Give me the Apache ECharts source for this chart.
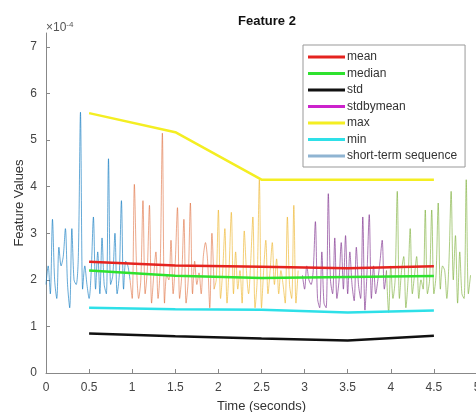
<!DOCTYPE html>
<html>
<head>
<meta charset="utf-8">
<script src="https://cdn.jsdelivr.net/npm/echarts@6/dist/echarts.min.js"></script>
<style>
  html, body { margin: 0; padding: 0; background: #fff; }
  #chart { width: 476px; height: 412px; }
</style>
</head>
<body>
<div id="chart"></div>
<script>
// all values in units of 1e-4
var statTimes = [0.5, 1.5, 2.5, 3.5, 4.5];
var meanValues = [2.39, 2.31, 2.28, 2.25, 2.29];
var medianValues = [2.20, 2.09, 2.04, 2.06, 2.08];
var stdValues = [0.85, 0.79, 0.74, 0.70, 0.80];
var stdbymeanValues = [3560, 3420, 3250, 3110, 3500];
var maxValues = [5.58, 5.17, 4.15, 4.15, 4.15];
var minValues = [1.40, 1.37, 1.36, 1.30, 1.34];

var xTicks = [0, 0.5, 1, 1.5, 2, 2.5, 3, 3.5, 4, 4.5, 5];
var yTicks = [0, 1, 2, 3, 4, 5, 6, 7];

// short-term sequences, one per second, sampled every 0.025 s
var seqStep = 0.025;
var seqStarts = [0, 0.975, 1.95, 2.975, 3.95];
var seq1 = [1.9, 2.3, 1.7, 3.3, 2.0, 1.6, 2.7, 2.3, 2.5, 3.1, 1.9, 1.4, 3.1, 2.0, 1.9, 2.5, 5.6, 1.8, 2.3, 1.9,
            1.6, 2.2, 3.35, 1.8, 2.6, 1.7, 2.9, 1.9, 1.7, 4.6, 1.9, 2.1, 3.0, 1.7, 2.1, 3.7, 1.8, 2.4, 2.3, 2.0];
var seq2 = [2.0, 1.6, 4.05, 2.3, 1.6, 2.0, 3.7, 1.7, 2.2, 3.6, 1.5, 2.1, 2.6, 1.6, 2.3, 5.15, 1.5, 2.1, 2.0, 2.85,
            1.7, 2.4, 3.55, 1.6, 2.1, 3.3, 1.5, 2.0, 3.65, 1.7, 2.4, 1.9, 2.15, 1.7, 2.5, 2.8, 2.4, 1.4, 3.0, 1.8];
var seq3 = [1.8, 2.0, 3.5, 1.6, 2.2, 3.1, 1.5, 2.3, 3.45, 1.7, 2.6, 1.8, 2.2, 1.5, 3.05, 2.2, 1.7, 2.4, 3.35, 1.4,
            2.0, 4.15, 1.4, 2.2, 2.85, 1.7, 2.2, 2.8, 1.9, 2.45, 1.7, 2.2, 1.9, 1.5, 3.35, 1.9, 1.6, 3.6, 1.5, 2.2];
var seq4 = [2.1, 1.8, 2.3, 2.0, 1.9, 2.2, 3.25, 1.6, 1.4, 2.6, 1.5, 1.4, 3.85, 2.0, 1.7, 2.9, 1.6, 2.0, 2.8, 1.8,
            2.95, 1.7, 2.6, 1.9, 1.55, 2.7, 1.9, 1.6, 3.35, 1.35, 2.2, 3.4, 1.6, 2.3, 1.7, 2.0, 2.4, 2.85, 1.8, 2.2];
var seq5 = [2.2, 1.3, 2.3, 1.6, 2.0, 3.9, 1.6, 2.2, 2.5, 1.4, 2.0, 3.1, 1.7, 2.1, 2.5, 1.6, 2.0, 1.8, 3.5, 1.7,
            2.0, 3.5, 1.7, 2.1, 3.65, 1.8, 2.3, 2.2, 1.6, 2.4, 3.9, 2.0, 2.95, 1.5, 2.6, 1.7, 1.6, 4.15, 1.7, 2.1];
var seqColors = ['rgba(0,114,189,0.6)', 'rgba(217,83,25,0.5)', 'rgba(237,177,32,0.6)',
                 'rgba(126,47,142,0.65)', 'rgba(119,172,48,0.6)'];

function pairs(xs, ys) {
    var out = [];
    for (var i = 0; i < ys.length; i++) {
        out.push([xs[i], ys[i]]);
    }
    return out;
}

function seqPairs(start, values) {
    var out = [];
    for (var i = 0; i < values.length; i++) {
        out.push([start + i * seqStep, values[i]]);
    }
    return out;
}

var series = [];
var seqs = [seq1, seq2, seq3, seq4, seq5];
for (var s = 0; s < seqs.length; s++) {
    series.push({
        name: s == 0 ? 'short-term sequence' : 'seq' + s,
        type: 'line',
        data: seqPairs(seqStarts[s], seqs[s]),
        showSymbol: false,
        smooth: 0.3,
        lineStyle: { width: 1, color: seqColors[s] },
        itemStyle: { color: s == 0 ? '#8fb4d2' : seqColors[s] },
        z: 2
    });
}

function statLine(name, values, color) {
    return {
        name: name,
        type: 'line',
        data: pairs(statTimes, values),
        showSymbol: false,
        lineStyle: { width: 2.5, color: color },
        itemStyle: { color: color },
        z: 5
    };
}

series.push(statLine('mean', meanValues, '#e5231f'));
series.push(statLine('median', medianValues, '#2ee22e'));
series.push(statLine('std', stdValues, '#111111'));
series.push(statLine('stdbymean', stdbymeanValues, '#cc22cc'));
series.push(statLine('max', maxValues, '#f4ee22'));
series.push(statLine('min', minValues, '#2ee0e8'));

var font = 'Liberation Sans, Arial, sans-serif';

var option = {
    backgroundColor: '#fff',
    animation: false,
    title: {
        text: 'Feature 2',
        left: 262,
        textAlign: 'center',
        top: 10,
        textStyle: { fontFamily: font, fontSize: 13, fontWeight: 'bold', color: '#111' }
    },
    grid: { left: 46, right: -1, top: 33, bottom: 39, outerBoundsMode: 'none', containLabel: false },
    legend: {
        orient: 'vertical',
        left: 303,
        top: 45,
        width: 162,
        padding: [5, 8, 4, 5],
        itemWidth: 37,
        itemHeight: 3,
        itemGap: 2.5,
        borderColor: '#999',
        borderWidth: 1,
        backgroundColor: '#fff',
        icon: 'rect',
        data: ['mean', 'median', 'std', 'stdbymean', 'max', 'min', 'short-term sequence'],
        textStyle: { fontFamily: font, fontSize: 12, color: '#333', lineHeight: 14, padding: [0, 0, 0, -3] }
    },
    xAxis: {
        type: 'value',
        min: xTicks[0],
        max: xTicks[xTicks.length - 1],
        interval: 0.5,
        name: 'Time (seconds)',
        nameLocation: 'middle',
        nameGap: 27,
        nameMoveOverlap: false,
        nameTextStyle: { fontFamily: font, fontSize: 13, color: '#333' },
        axisLine: { lineStyle: { color: '#888' } },
        axisTick: { inside: true, length: 4, lineStyle: { color: '#888' } },
        axisLabel: { fontFamily: font, fontSize: 12, color: '#444', margin: 9 },
        splitLine: { show: false }
    },
    yAxis: {
        type: 'value',
        min: yTicks[0],
        max: 7.3,
        interval: 1,
        name: 'Feature Values',
        nameLocation: 'middle',
        nameGap: 20,
        nameMoveOverlap: false,
        nameTextStyle: { fontFamily: font, fontSize: 13, color: '#333' },
        axisLine: { show: true, lineStyle: { color: '#888' } },
        axisTick: { show: true, inside: true, length: 4, lineStyle: { color: '#888' } },
        axisLabel: {
            fontFamily: font, fontSize: 12, color: '#444', margin: 9,
            showMaxLabel: false,
            formatter: function (v) { return yTicks.indexOf(v) >= 0 ? String(v) : ''; }
        },
        splitLine: { show: false }
    },
    graphic: [{
        type: 'text',
        left: 46,
        top: 21,
        style: {
            text: '×10{sup|-4}',
            fontFamily: font,
            fontSize: 12,
            fill: '#555',
            rich: { sup: { fontSize: 8, fill: '#555', verticalAlign: 'top', padding: [0, 0, 6, 0] } }
        }
    }],
    series: series
};

var myChart = echarts.init(document.getElementById('chart'));
myChart.setOption(option);
</script>
</body>
</html>
